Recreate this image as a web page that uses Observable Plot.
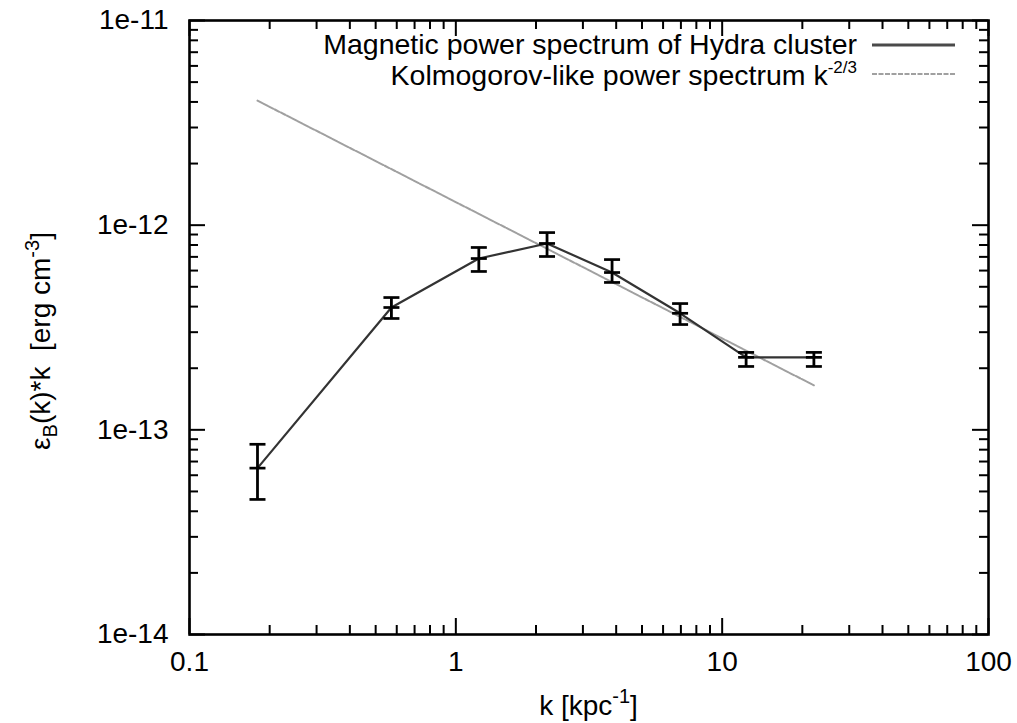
<!DOCTYPE html>
<html><head><meta charset="utf-8">
<script src="https://cdn.jsdelivr.net/npm/d3@7"></script>
<script src="https://cdn.jsdelivr.net/npm/@observablehq/plot@0.6"></script>
<style>body{margin:0;background:#fff} svg{display:block}</style>
</head><body><div id="chart"></div>
<script>
// Magnetic power spectrum of Hydra cluster
const kValues  = [0.18, 0.573, 1.22, 2.2, 3.86, 6.95, 12.3, 22.1];
const spectrum = [6.5e-14, 3.96e-13, 6.87e-13, 8.14e-13, 5.87e-13, 3.71e-13, 2.26e-13, 2.26e-13];
const errLow   = [4.57e-14, 3.5e-13, 5.94e-13, 7.03e-13, 5.25e-13, 3.27e-13, 2.04e-13, 2.04e-13];
const errHigh  = [8.5e-14, 4.43e-13, 7.78e-13, 9.2e-13, 6.79e-13, 4.14e-13, 2.39e-13, 2.39e-13];
// Kolmogorov-like k^-2/3 reference line (end points)
const kolmoK = [0.18, 22.1];
const kolmoE = [4.06e-12, 1.65e-13];
// ticks
const xTicks = [0.1, 1, 10, 100];
const xTickLabels = ["0.1", "1", "10", "100"];
const yTicks = [1e-14, 1e-13, 1e-12, 1e-11];
const yTickLabels = ["1e-14", "1e-13", "1e-12", "1e-11"];
const legendLabels = ["Magnetic power spectrum of Hydra cluster", "Kolmogorov-like power spectrum k"];

const W = 1017, H = 723;
const mL = 189, mR = 29, mT = 20, mB = 89;
const iw = W - mL - mR, ih = H - mT - mB;

const data = kValues.map((k, i) => ({k, e: spectrum[i], lo: errLow[i], hi: errHigh[i]}));
const caps = data.flatMap(d => [{k: d.k, v: d.lo}, {k: d.k, v: d.e}, {k: d.k, v: d.hi}]);
const kolmo = kolmoK.map((k, i) => ({k, e: kolmoE[i]}));

const minors = ticks => ticks.slice(0, -1).flatMap(t => [2,3,4,5,6,7,8,9].map(m => t * m));
const xMinor = minors(xTicks), yMinor = minors(yTicks);

const capSymbol = {draw(ctx, size) { const r = Math.sqrt(size / Math.PI); ctx.moveTo(-r, 0); ctx.lineTo(r, 0); }};

const major = 16, minor = 9, tw = 2;

const plot = Plot.plot({
  width: W, height: H,
  marginLeft: mL, marginRight: mR, marginTop: mT, marginBottom: mB,
  style: {fontFamily: "'Liberation Sans', Arial, sans-serif", fontSize: "28px", background: "#fff", color: "#000"},
  x: {type: "log", domain: [0.1, 100]},
  y: {type: "log", domain: [1e-14, 1e-11]},
  marks: [
    Plot.tickX(xMinor, {x: d => d, insetTop: ih - minor, stroke: "#000", strokeWidth: tw}),
    Plot.tickX(xMinor, {x: d => d, insetBottom: ih - minor, stroke: "#000", strokeWidth: tw}),
    Plot.tickX(xTicks, {x: d => d, insetTop: ih - major, stroke: "#000", strokeWidth: tw}),
    Plot.tickX(xTicks, {x: d => d, insetBottom: ih - major, stroke: "#000", strokeWidth: tw}),
    Plot.tickY(yMinor, {y: d => d, insetRight: iw - minor, stroke: "#000", strokeWidth: tw}),
    Plot.tickY(yMinor, {y: d => d, insetLeft: iw - minor, stroke: "#000", strokeWidth: tw}),
    Plot.tickY(yTicks, {y: d => d, insetRight: iw - major, stroke: "#000", strokeWidth: tw}),
    Plot.tickY(yTicks, {y: d => d, insetLeft: iw - major, stroke: "#000", strokeWidth: tw}),
    Plot.axisX(xTicks, {tickSize: 0, tickPadding: 17, label: null, fontSize: 28,
      tickFormat: d => xTickLabels[xTicks.indexOf(d)]}),
    Plot.axisY(yTicks, {tickSize: 0, tickPadding: 21, label: null, fontSize: 28,
      tickFormat: d => yTickLabels[yTicks.indexOf(d)]}),
    Plot.line(kolmo, {x: "k", y: "e", stroke: "#a0a0a0", strokeWidth: 2, strokeDasharray: "5,1.5"}),
    Plot.line(data, {x: "k", y: "e", stroke: "#333", strokeWidth: 2.2}),
    Plot.ruleX(data, {x: "k", y1: "lo", y2: "hi", stroke: "#000", strokeWidth: 2.8}),
    Plot.dot(caps, {x: "k", y: "v", symbol: capSymbol, r: 8, stroke: "#000", strokeWidth: 2.7, fill: "none"}),
    Plot.frame({stroke: "#000", strokeWidth: 2.6})
  ]
});
document.getElementById("chart").appendChild(plot);

const svg = d3.select(plot);
const font = "'Liberation Sans', Arial, sans-serif";

// y axis label
const yl = svg.append("text")
  .attr("transform", "translate(50,341) rotate(-90)")
  .attr("text-anchor", "middle").attr("font-family", font).attr("font-size", 28)
  .style("white-space", "pre").attr("fill", "#000");
yl.append("tspan").text("ε");
yl.append("tspan").attr("dy", 7).attr("font-size", 20).text("B");
yl.append("tspan").attr("dy", -7).text("(k)*k  [erg cm");
yl.append("tspan").attr("dy", -11).attr("font-size", 20).text("-3");
yl.append("tspan").attr("dy", 11).text("]");

// x axis label
const xl = svg.append("text")
  .attr("x", (mL + W - mR) / 2).attr("y", 715)
  .attr("text-anchor", "middle").attr("font-family", font).attr("font-size", 28).attr("fill", "#000");
xl.append("tspan").text("k [kpc");
xl.append("tspan").attr("dy", -12).attr("font-size", 20).text("-1");
xl.append("tspan").attr("dy", 12).text("]");

// legend
const lg = svg.append("g").attr("font-family", font).attr("font-size", 28.5).attr("fill", "#000");
lg.append("text").attr("x", 857).attr("y", 54).attr("text-anchor", "end").text(legendLabels[0]);
const l2 = lg.append("text").attr("x", 857).attr("y", 85).attr("text-anchor", "end");
l2.append("tspan").text(legendLabels[1]);
l2.append("tspan").attr("dy", -12).attr("font-size", 17).text("-2/3");
lg.append("line").attr("x1", 872).attr("x2", 955).attr("y1", 45).attr("y2", 45)
  .attr("stroke", "#4a4a4a").attr("stroke-width", 3);
lg.append("line").attr("x1", 872).attr("x2", 955).attr("y1", 74).attr("y2", 74)
  .attr("stroke", "#a0a0a0").attr("stroke-width", 2).attr("stroke-dasharray", "5,1.5");
</script>
</body></html>
